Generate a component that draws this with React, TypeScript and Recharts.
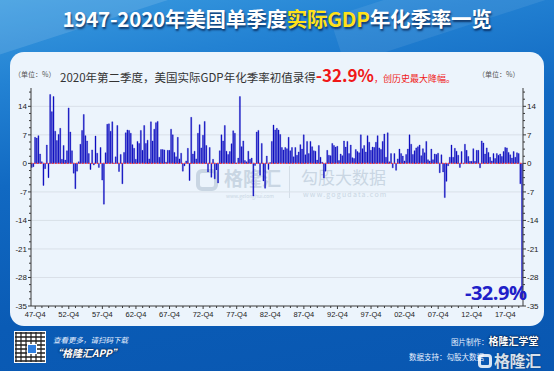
import React from 'react';
import { BarChart, Bar, XAxis, YAxis, CartesianGrid, ReferenceLine } from 'recharts';

// US real GDP, quarterly, annualised % change, 1947-Q2 .. 2020-Q2
const startYear = 1947;
const startQuarter = 2;
const growth: number[] = [
  -1.0, -0.8, 6.4,
  6.2, 6.8, 2.3, 0.4,
  -5.4, -1.3, 4.5, -3.5,
  16.9, 12.7, 16.4, 7.9,
  5.6, 7.1, 8.6, 1.0,
  4.4, 0.8, 3.1, 13.6,
  7.7, 3.1, -2.4, -6.2,
  -1.9, 0.4, 4.7, 8.1,
  12.0, 6.8, 5.5, 2.4,
  -1.5, 3.3, -0.4, 6.7,
  2.5, -1.0, 3.9, -4.1,
  -10.0, 2.6, 9.6, 9.7,
  7.9, 10.2, 0.1, 1.6,
  9.3, -2.0, 2.2, -5.0,
  2.7, 7.5, 8.2, 8.1,
  7.4, 4.6, 3.7, 1.0,
  5.4, 4.9, 8.1, 3.2,
  9.3, 4.9, 5.7, 1.1,
  10.2, 5.5, 8.4, 10.0,
  10.3, 1.5, 3.4, 3.4,
  3.3, 0.3, 3.2, 3.2,
  8.4, 7.0, 2.7, 1.6,
  6.4, 1.1, 2.5, -1.9,
  -0.6, 0.6, 3.7, -4.2,
  11.3, 2.3, 3.0, 1.1,
  7.4, 9.5, 3.8, 6.9,
  10.3, 4.4, -2.1, 3.9,
  -3.4, 1.0, -3.8, -1.6,
  -4.8, 3.1, 7.0, 5.5,
  9.3, 3.0, 2.2, 2.9,
  4.8, 8.0, 7.4, 0.1,
  1.3, 16.4, 4.1, 5.5,
  0.7, 0.4, 3.0, 1.0,
  1.3, -8.0, -0.5, 7.7,
  8.1, -2.9, 4.9, -4.3,
  -6.1, 1.8, -1.5, 0.2,
  5.4, 9.4, 8.2, 8.6,
  8.2, 7.1, 3.9, 3.3,
  3.9, 3.6, 6.4, 3.1,
  3.9, 1.6, 3.9, 2.0,
  2.8, 4.6, 3.5, 7.0,
  2.1, 5.4, 2.4, 5.4,
  4.1, 3.1, 3.0, 0.8,
  4.4, 1.5, 0.3, -3.6,
  -1.9, 3.2, 2.0, 1.9,
  4.9, 4.4, 4.0, 4.2,
  0.7, 2.3, 1.9, 5.5,
  4.0, 5.4, 2.4, 4.5,
  1.4, 1.2, 3.4, 2.9,
  2.6, 7.0, 3.6, 4.4,
  2.8, 6.8, 5.2, 3.2,
  4.0, 3.9, 5.2, 6.8,
  3.8, 3.4, 5.4, 7.2,
  1.5, 7.5, 0.4, 2.4,
  -1.1, 2.4, -1.7, 1.1,
  3.5, 2.4, 1.8, 0.6,
  2.2, 3.5, 7.0, 4.7,
  2.2, 3.1, 3.8, 4.1,
  4.5, 1.9, 3.6, 2.6,
  5.4, 0.9, 0.6, 3.5,
  0.9, 2.3, 2.2, 2.5,
  -2.3, 2.1, -2.1, -8.4,
  -4.4, -0.6, 1.5, 4.5,
  1.5, 3.7, 3.0, 2.0,
  -1.0, 2.9, -0.1, 4.7,
  3.2, 1.7, 0.5, 0.5,
  3.6, 0.5, 3.2, 3.2,
  -1.1, 5.5, 5.0, 2.3,
  3.8, 2.7, 1.5, 0.6,
  2.4, 1.2, 2.4, 2.0,
  2.3, 1.7, 2.9, 3.9,
  3.8, 2.7, 2.1, 1.3,
  2.9, 1.5, 2.6, 2.4,
  -5.0, -32.9,
];

const xLabelYears = ['47', '52', '57', '62', '67', '72', '77', '82', '87', '92', '97', '02', '07', '12', '17'];
const yMajorTicks = [-35, -28, -21, -14, -7, 0, 7, 14];
const yGridValues = [-28, -21, -14, -7, 7, 14];
const yMinorStep = 1.75;

const yAllTicks: number[] = [];
for (let t = -35; t <= 18; t += yMinorStep) yAllTicks.push(Math.round(t * 100) / 100);

const quarterLabels = growth.map((_, i) => {
  const k = i + startQuarter - 1;
  const year = startYear + Math.floor(k / 4);
  const q = (k % 4) + 1;
  return `${String(year).slice(2)}-Q${q}`;
});

const data = growth.map((v, i) => ({ q: quarterLabels[i], v }));

const AXIS = '#3a3a3a';
const TICK_FONT = '"Liberation Sans", Arial, sans-serif';

const LeftTick = (props: any) => {
  const { x, y, payload } = props;
  const v = payload.value;
  const major = yMajorTicks.includes(v);
  return (
    <g>
      <line x1={x - (major ? 3 : 2)} x2={x} y1={y} y2={y} stroke={AXIS} strokeWidth={1} />
      {major && (
        <text x={x - 4} y={y} dy={3} textAnchor="end" fontSize={8} fill="#222" fontFamily={TICK_FONT}>
          {v}
        </text>
      )}
    </g>
  );
};

const RightTick = (props: any) => {
  const { x, y, payload } = props;
  const v = payload.value;
  const major = yMajorTicks.includes(v);
  return (
    <g>
      <line x1={x} x2={x + (major ? 3 : 2)} y1={y} y2={y} stroke={AXIS} strokeWidth={1} />
      {major && (
        <text x={x + 4} y={y} dy={3} textAnchor="start" fontSize={8} fill="#222" fontFamily={TICK_FONT}>
          {v}
        </text>
      )}
    </g>
  );
};

const BottomTick = (props: any) => {
  const { x, y, payload } = props;
  const label: string = payload.value;
  if (!label.endsWith('Q4')) return <g />;
  const yy = label.slice(0, 2);
  const major = xLabelYears.includes(yy);
  return (
    <g>
      <line x1={x} x2={x} y1={y} y2={y + (major ? 3 : 2)} stroke={AXIS} strokeWidth={1} />
      {major && (
        <text x={x} y={y + 11} textAnchor="middle" fontSize={7.5} fill="#222" fontFamily={TICK_FONT}>
          {label}
        </text>
      )}
    </g>
  );
};

const CJK = '"Noto Sans CJK SC", "Noto Sans", sans-serif';

export default function App() {
  return (
    <div
      style={{
        position: 'absolute',
        left: 0,
        top: 0,
        width: 554,
        height: 371,
        overflow: 'hidden',
        fontFamily: CJK,
        background: 'linear-gradient(170deg, #3a9be0 0%, #2382d3 18%, #1169c2 40%, #0a5bb5 70%, #0957b1 100%)',
      }}
    >
      {/* diagonal light stripes */}
      <div style={{ position: 'absolute', left: -60, top: -40, width: 260, height: 70, background: 'rgba(255,255,255,0.12)', transform: 'rotate(-18deg)' }} />
      <div style={{ position: 'absolute', left: 330, top: -30, width: 300, height: 50, background: 'rgba(255,255,255,0.08)', transform: 'rotate(-18deg)' }} />

      {/* title */}
      <div
        style={{
          position: 'absolute',
          left: 0,
          top: 3,
          width: 554,
          textAlign: 'center',
          fontSize: 20.5,
          fontWeight: 700,
          color: '#ffffff',
          letterSpacing: -0.2,
          textShadow: '1px 2px 2px rgba(0,20,60,0.7)',
          whiteSpace: 'nowrap',
        }}
      >
        1947-2020年美国单季度<span style={{ color: '#ffe21a' }}>实际GDP</span>年化季率一览
      </div>

      {/* panel */}
      <div
        style={{
          position: 'absolute',
          left: 10,
          top: 52,
          width: 534,
          height: 274,
          borderRadius: 14,
          background: '#ecf4fc',
        }}
      />

      {/* subtitle */}
      <div style={{ position: 'absolute', left: 14, top: 71, fontSize: 7, color: '#555', lineHeight: 1 }}>（单位：%）</div>
      <div style={{ position: 'absolute', left: 478, top: 71, fontSize: 7, color: '#555', lineHeight: 1 }}>（单位：%）</div>
      <div
        style={{
          position: 'absolute',
          left: 60,
          top: 64,
          whiteSpace: 'nowrap',
          color: '#333',
          fontSize: 11.5,
          lineHeight: '22px',
        }}
      >
        2020年第二季度，美国实际GDP年化季率初值录得
        <span style={{ color: '#f01818', fontWeight: 700, fontSize: 17 }}>-32.9%</span>
        <span style={{ color: '#f01818', fontSize: 9 }}>，创历史最大降幅。</span>
      </div>

      {/* watermark */}
      <div style={{ position: 'absolute', left: 196, top: 169, width: 22, height: 22, border: '4px solid #c9d6e3', borderRadius: 6, boxSizing: 'border-box' }} />
      <div style={{ position: 'absolute', left: 224, top: 168, fontSize: 19, lineHeight: 1, color: '#c9d6e3', fontWeight: 700 }}>格隆汇</div>
      <div style={{ position: 'absolute', left: 226, top: 193, fontSize: 5, lineHeight: 1, color: '#c9d6e3' }}>www.gelonghui.com</div>
      <div style={{ position: 'absolute', left: 289, top: 166, width: 1, height: 32, background: '#d3dde7' }} />
      <div style={{ position: 'absolute', left: 301, top: 168, fontSize: 17, lineHeight: 1, color: '#c9d6e3' }}>勾股大数据</div>
      <div style={{ position: 'absolute', left: 303, top: 191, fontSize: 7, lineHeight: 1, color: '#c9d6e3', letterSpacing: 1.2 }}>www.gogudata.com</div>

      {/* chart */}
      <div style={{ position: 'absolute', left: 0, top: 0 }}>
        <BarChart
          width={554}
          height={371}
          data={data}
          margin={{ top: 88, right: 11, bottom: 45, left: 11 }}
          barCategoryGap="12%"
        >
          <CartesianGrid horizontal vertical={false} horizontalValues={yGridValues} stroke="#d9e0e8" strokeWidth={1} yAxisId="left" />
          <XAxis
            dataKey="q"
            interval={0}
            tickLine={false}
            tickSize={0}
            tickMargin={0}
            height={20}
            axisLine={{ stroke: AXIS }}
            tick={<BottomTick />}
          />
          <YAxis
            yAxisId="left"
            type="number"
            domain={[-35, 18.5]}
            allowDataOverflow
            ticks={yAllTicks}
            interval={0}
            width={20}
            tickLine={false}
            tickSize={0}
            tickMargin={0}
            axisLine={{ stroke: AXIS }}
            tick={<LeftTick />}
          />
          <YAxis
            yAxisId="right"
            orientation="right"
            type="number"
            domain={[-35, 18.5]}
            allowDataOverflow
            ticks={yAllTicks}
            interval={0}
            width={20}
            tickLine={false}
            tickSize={0}
            tickMargin={0}
            axisLine={{ stroke: AXIS }}
            tick={<RightTick />}
          />
          <ReferenceLine yAxisId="left" y={0} stroke="#ff3b3b" strokeDasharray="1.5 1.5" strokeWidth={1.2} />
          <Bar yAxisId="left" dataKey="v" fill="#0c0cc0" stroke="#0c0cc0" strokeWidth={0.35} isAnimationActive={false} />
        </BarChart>
      </div>

      {/* annotation */}
      <div style={{ position: 'absolute', left: 465, top: 280, fontSize: 20, lineHeight: 1.3, fontWeight: 700, color: '#2020c8', fontFamily: '"Open Sans", "Noto Sans", sans-serif', letterSpacing: -0.5 }}>
        -32.9%
      </div>

      {/* footer left */}
      <div
        style={{
          position: 'absolute',
          left: 14,
          top: 331,
          width: 32,
          height: 32,
          background: '#fff',
          backgroundImage:
            'repeating-linear-gradient(0deg, rgba(30,30,30,0.75) 0 2px, transparent 2px 4px), repeating-linear-gradient(90deg, rgba(30,30,30,0.6) 0 2px, transparent 2px 5px)',
          border: '1px solid #fff',
          boxSizing: 'border-box',
        }}
      >
        <div style={{ position: 'absolute', left: 12, top: 12, width: 8, height: 8, background: '#2f7fe0', border: '1px solid #fff' }} />
      </div>
      <div style={{ position: 'absolute', left: 53, top: 336, fontSize: 7.5, lineHeight: 1, color: '#e8f1ff', fontStyle: 'italic', whiteSpace: 'nowrap' }}>
        查看更多，请扫码下载
      </div>
      <div
        style={{
          position: 'absolute',
          left: 52,
          top: 348,
          fontSize: 10,
          lineHeight: 1,
          fontWeight: 700,
          fontStyle: 'italic',
          color: '#fff',
          whiteSpace: 'nowrap',
          textShadow: '0 0 2px #0b2040, 0 0 2px #0b2040',
        }}
      >
        “格隆汇APP”
      </div>

      {/* footer right */}
      <div style={{ position: 'absolute', left: 451, top: 335, fontSize: 7.5, lineHeight: '12px', color: '#e8f1ff', whiteSpace: 'nowrap' }}>
        图片制作：
        <span style={{ fontWeight: 700, fontSize: 10, color: '#fff', textShadow: '0 0 2px #0b2040, 0 0 2px #0b2040' }}>格隆汇学堂</span>
      </div>
      <div style={{ position: 'absolute', left: 409, top: 353, fontSize: 7.5, lineHeight: 1, color: '#e8f1ff', whiteSpace: 'nowrap' }}>
        数据支持：勾股大数据
      </div>
      <div
        style={{
          position: 'absolute',
          left: 478,
          top: 352,
          fontSize: 16,
          lineHeight: 1,
          fontWeight: 700,
          color: 'rgba(255,255,255,0.85)',
          whiteSpace: 'nowrap',
          letterSpacing: -0.5,
          textShadow: '0 0 2px rgba(0,0,0,0.4)',
        }}
      >
        <span style={{ display: 'inline-block', width: 14, height: 14, border: '3px solid rgba(255,255,255,0.85)', borderRadius: 4, boxSizing: 'border-box', marginRight: 2, verticalAlign: -1 }} />
        格隆汇
      </div>
    </div>
  );
}
